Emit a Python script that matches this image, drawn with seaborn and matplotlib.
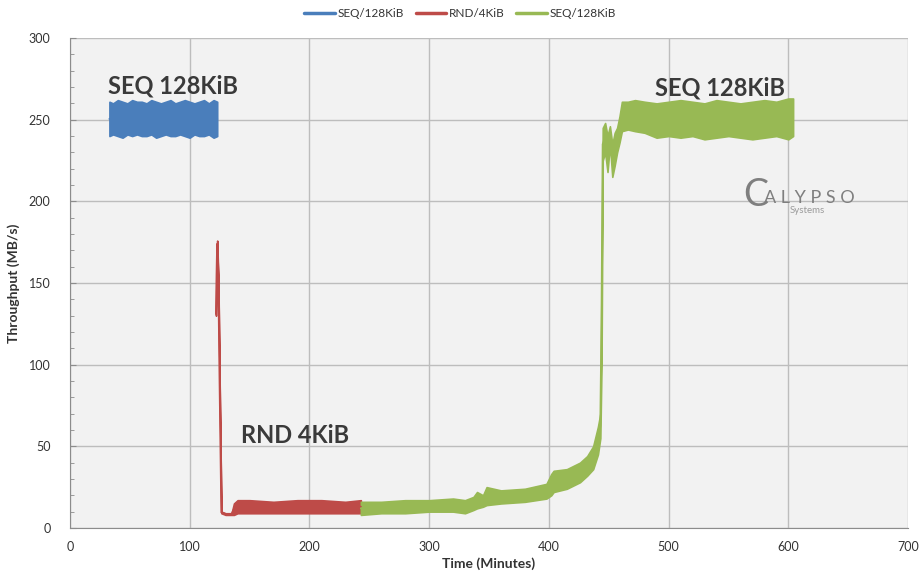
import matplotlib as mpl
mpl.use('Agg')
import matplotlib.pyplot as plt
from matplotlib.lines import Line2D
from matplotlib.ticker import MultipleLocator
import seaborn as sns
import pandas as pd

# envelope of each trace (time in minutes, low / high throughput in MB/s)
seq1_t = [33, 36, 40, 44, 48, 52, 56, 60, 64, 68, 72, 76, 80, 84, 88, 92, 96,
          100, 104, 108, 112, 116, 120, 123]
seq1_lo = [240, 241, 240, 239, 241, 240, 241, 240, 240, 241, 239, 240, 241, 240,
           240, 241, 240, 239, 241, 240, 240, 241, 239, 240]
seq1_hi = [261, 260, 262, 261, 260, 262, 261, 261, 260, 262, 261, 260, 261, 262,
           260, 261, 262, 261, 260, 261, 262, 260, 262, 261]

rnd_t = [122, 122.5, 123, 124, 125, 126.5, 130, 135, 137, 140, 150, 170, 190, 210, 230, 243]
rnd_lo = [130, 150, 172, 150, 90, 9, 8, 8, 8, 9, 9, 9, 9, 9, 9, 9]
rnd_hi = [132, 160, 176, 152, 92, 10, 9, 9, 15, 17, 17, 16, 17, 17, 16, 17]

seq2_t = [243, 260, 280, 300, 320, 330, 337, 340, 345, 348, 360, 380, 398, 402, 404,
          415, 426, 432, 437, 441, 443, 444, 445, 447, 449, 451, 453, 455, 457, 459, 461,
          466, 472, 480, 490, 500, 510, 520, 530, 540, 550, 560, 570, 580, 590, 600, 604]
seq2_lo = [8, 9, 9, 10, 10, 9, 11, 12, 13, 14, 15, 16, 18, 20, 22,
           24, 28, 32, 36, 45, 55, 100, 225, 230, 218, 235, 215, 222, 230, 236, 243,
           244, 243, 242, 239, 240, 239, 240, 238, 239, 240, 239, 238, 239, 240, 238, 240]
seq2_hi = [16, 16, 17, 17, 18, 17, 19, 22, 20, 25, 23, 24, 27, 33, 35,
           36, 40, 44, 50, 62, 70, 150, 245, 248, 240, 246, 235, 242, 245, 252, 261,
           261, 262, 261, 260, 261, 262, 261, 260, 262, 261, 260, 261, 262, 261, 263, 263]

legend_labels = ['SEQ/128KiB', 'RND/4KiB', 'SEQ/128KiB']
colors = {'seq1': '#4a7ebb', 'rnd': '#be4b48', 'seq2': '#98b954'}

rows = []
for key, t, lo, hi in [('seq1', seq1_t, seq1_lo, seq1_hi),
                       ('rnd', rnd_t, rnd_lo, rnd_hi),
                       ('seq2', seq2_t, seq2_lo, seq2_hi)]:
    for ti, a, b in zip(t, lo, hi):
        rows.append((key, ti, a))
        rows.append((key, ti, b))
df = pd.DataFrame(rows, columns=['series', 't', 'mbps'])

sns.set_style('whitegrid', {'axes.facecolor': '#f2f2f2', 'grid.color': '#bdbdbd',
                            'axes.edgecolor': '#8c8c8c'})
plt.rcParams['font.family'] = ['Lato', 'DejaVu Sans']

fig = plt.figure(figsize=(9.2, 5.77), dpi=100)
ax = fig.add_axes([0.076, 0.085, 0.911, 0.849])

sns.lineplot(data=df, x='t', y='mbps', hue='series', hue_order=['seq1', 'rnd', 'seq2'],
             palette=colors, estimator='mean', errorbar=('pi', 100),
             err_kws={'alpha': 1, 'linewidth': 1.2}, linewidth=1.4,
             legend=False, ax=ax)

ax.set_xlim(0, 700)
ax.set_ylim(0, 300)
ax.xaxis.set_major_locator(MultipleLocator(100))
ax.yaxis.set_major_locator(MultipleLocator(50))
ax.yaxis.set_minor_locator(MultipleLocator(10))
ax.grid(True, which='major', linewidth=1)
ax.grid(False, which='minor')
for s in ['top', 'right']:
    ax.spines[s].set_visible(False)
ax.tick_params(axis='y', which='both', direction='in', left=True, length=4,
               color='#8c8c8c', labelsize=9, labelcolor='#333333', pad=14)
ax.tick_params(axis='y', which='minor', length=3)
ax.tick_params(axis='x', labelsize=9, labelcolor='#333333', pad=6)

ax.set_xlabel('Time (Minutes)', fontsize=10, fontweight='bold', color='#333333', labelpad=3)
ax.set_ylabel('Throughput (MB/s)', fontsize=10, fontweight='bold', color='#333333', labelpad=6)

tk = dict(fontsize=17, fontweight='bold', color='#3a3a3a')
ax.text(32, 266, 'SEQ 128KiB', **tk)
ax.text(143, 52, 'RND 4KiB', **tk)
ax.text(489, 265, 'SEQ 128KiB', **tk)

# logo
ax.text(562, 197, 'C', fontsize=27, color='#7f7f7f')
ax.text(580, 199, 'A L Y P S O', fontsize=13, color='#7f7f7f')
ax.text(601, 193, 'Systems', fontsize=7, color='#9a9a9a')

handles = [Line2D([], [], color=colors[k], linewidth=2.5) for k in ['seq1', 'rnd', 'seq2']]
fig.legend(handles, legend_labels, loc='upper center', bbox_to_anchor=(0.5, 1.005),
           ncol=3, frameon=False, fontsize=8.5, handlelength=2.6, handletextpad=0.2,
           columnspacing=1.0, labelcolor='#333333')

fig.savefig('out.png', dpi=100, facecolor='white')
